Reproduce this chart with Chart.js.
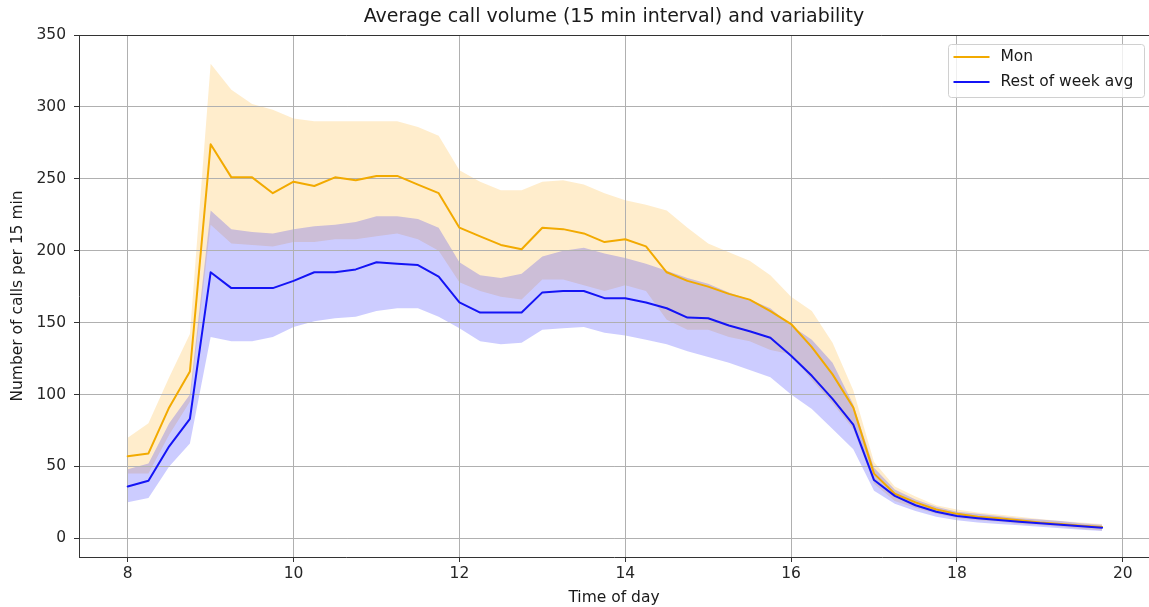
<!DOCTYPE html>
<html>
<head>
<meta charset="utf-8">
<title>Average call volume</title>
<script src="https://cdn.jsdelivr.net/npm/chart.js@4.4.1/dist/chart.umd.min.js"></script>
<style>
  html, body { margin: 0; padding: 0; background: #ffffff; }
  #wrap { width: 1149px; height: 607px; }
</style>
</head>
<body>
<div id="wrap"><canvas id="chart" width="1149" height="607"></canvas></div>
<script>
// Time of day, in hours, one slot per 15 minutes
const times = [8.00, 8.25, 8.50, 8.75, 9.00, 9.25, 9.50, 9.75, 10.00, 10.25, 10.50, 10.75,
  11.00, 11.25, 11.50, 11.75, 12.00, 12.25, 12.50, 12.75, 13.00, 13.25, 13.50, 13.75,
  14.00, 14.25, 14.50, 14.75, 15.00, 15.25, 15.50, 15.75, 16.00, 16.25, 16.50, 16.75,
  17.00, 17.25, 17.50, 17.75, 18.00, 18.25, 18.50, 18.75, 19.00, 19.25, 19.50, 19.75];

// Monday average calls per slot and its variability band
const monAvg = [57, 59, 91, 116, 274, 251, 251, 240, 248, 245, 251, 249,
  252, 252, 246, 240, 216, 210, 204, 201, 216, 215, 212, 206,
  208, 203, 185, 179, 175, 170, 166, 158, 149, 133, 114, 91,
  45, 31, 25, 20, 17, 15, 14, 12.5, 11, 10, 8.8, 7.8];
const monUpper = [70, 80, 112, 142, 330, 312, 302, 298, 292, 290, 290, 290,
  290, 290, 286, 280, 256, 248, 242, 242, 248, 249, 246, 240,
  235, 232, 228, 216, 205, 199, 193, 183, 168, 158, 136, 103,
  53, 36, 29, 23, 20, 18, 16.5, 15, 13.5, 12, 11, 10];
const monLower = [45, 45, 72, 95, 218, 205, 204, 203, 206, 206, 208, 208,
  210, 212, 208, 200, 178, 172, 168, 166, 180, 180, 176, 172,
  176, 172, 152, 145, 145, 140, 137, 131, 128, 110, 94, 76,
  38, 26, 21, 17, 14, 12.5, 11.5, 10, 9, 8, 6.5, 5.5];

// Tuesday-Friday average calls per slot and its variability band
const restAvg = [36, 40, 64, 83, 185, 174, 174, 174, 179, 185, 185, 187,
  192, 191, 190, 182, 164, 157, 157, 157, 171, 172, 172, 167,
  167, 164, 160, 153.5, 153, 148, 144, 139.5, 127, 113, 97, 79,
  40.5, 29.5, 23, 18.5, 15.5, 14, 12.7, 11.5, 10.4, 9.5, 8.3, 7.4];
const restUpper = [48, 52, 80, 100, 228, 215, 213, 212, 215, 217, 218, 220,
  224, 224, 222, 216, 192, 183, 181, 184, 196, 200, 202, 198,
  195, 191, 186, 181, 177, 171, 166, 160, 148, 138, 122, 93,
  49, 34, 27, 22, 18.5, 17, 15.5, 14, 13, 12, 10.5, 9.5];
const restLower = [25, 28, 50, 66, 140, 137, 137, 140, 147, 151, 153, 154,
  158, 160, 160, 154, 146, 137, 135, 136, 145, 146, 147, 143,
  141, 138, 135, 130, 126, 122, 117, 112, 100, 90, 76, 62,
  33, 24, 19, 15, 12.5, 11, 10, 9, 8, 7, 6, 5];

// Axis ticks
const xTicks = [8, 10, 12, 14, 16, 18, 20];
const yTicks = [0, 50, 100, 150, 200, 250, 300, 350];

const FONT = 'DejaVu Sans';
const MON_COLOR = '#f2aa00';
const REST_COLOR = '#1414f5';

const toPoints = vals => vals.map((v, i) => ({ x: times[i], y: v }));

const lineStyle = {
  pointRadius: 0,
  pointHoverRadius: 0,
  tension: 0,
  borderWidth: 2,
  borderJoinStyle: 'round',
  borderCapStyle: 'round'
};
const bandStyle = {
  pointRadius: 0,
  pointHoverRadius: 0,
  tension: 0,
  borderWidth: 0,
  borderColor: 'rgba(0,0,0,0)'
};

// Grid lines sit above the shaded bands but under the average lines
const gridOverBands = {
  id: 'gridOverBands',
  beforeDatasetDraw(chart, args) {
    if (args.index === 1) {
      chart.scales.x.drawGrid(chart.chartArea);
      chart.scales.y.drawGrid(chart.chartArea);
    }
  }
};

// Top spine plus a boxed legend in the upper right corner
const frameAndLegend = {
  id: 'frameAndLegend',
  afterDraw(chart) {
    const ctx = chart.ctx;
    const area = chart.chartArea;
    ctx.save();
    ctx.strokeStyle = '#333333';
    ctx.lineWidth = 1;
    ctx.beginPath();
    ctx.moveTo(area.left, area.top + 0.5);
    ctx.lineTo(area.right, area.top + 0.5);
    ctx.stroke();

    const entries = [
      { label: chart.data.datasets[1].label, color: MON_COLOR },
      { label: chart.data.datasets[0].label, color: REST_COLOR }
    ];
    const bw = 196, bh = 53;
    const bx = area.right - 201 + 0.5, by = area.top + 9 + 0.5;
    const r = 3;
    ctx.beginPath();
    ctx.moveTo(bx + r, by);
    ctx.lineTo(bx + bw - r, by);
    ctx.arcTo(bx + bw, by, bx + bw, by + r, r);
    ctx.lineTo(bx + bw, by + bh - r);
    ctx.arcTo(bx + bw, by + bh, bx + bw - r, by + bh, r);
    ctx.lineTo(bx + r, by + bh);
    ctx.arcTo(bx, by + bh, bx, by + bh - r, r);
    ctx.lineTo(bx, by + r);
    ctx.arcTo(bx, by, bx + r, by, r);
    ctx.closePath();
    ctx.fillStyle = 'rgba(255,255,255,0.8)';
    ctx.fill();
    ctx.strokeStyle = '#d0d0d0';
    ctx.stroke();

    ctx.font = '15.5px "' + FONT + '"';
    ctx.textBaseline = 'middle';
    ctx.textAlign = 'left';
    entries.forEach((e, i) => {
      const cy = by + 12.5 + i * 25;
      ctx.strokeStyle = e.color;
      ctx.lineWidth = 2;
      ctx.beginPath();
      ctx.moveTo(bx + 5, cy);
      ctx.lineTo(bx + 41, cy);
      ctx.stroke();
      ctx.fillStyle = '#1a1a1a';
      ctx.fillText(e.label, bx + 52, cy);
    });
    ctx.restore();
  }
};

const tickFont = { family: FONT, size: 15.5 };

new Chart(document.getElementById('chart'), {
  type: 'line',
  data: {
    datasets: [
      Object.assign({ label: 'Rest of week avg', data: toPoints(restAvg), borderColor: REST_COLOR, fill: false }, lineStyle),
      Object.assign({ label: 'Mon', data: toPoints(monAvg), borderColor: MON_COLOR, fill: false }, lineStyle),
      Object.assign({ label: 'Rest of week upper', data: toPoints(restUpper), fill: '+1', backgroundColor: 'rgba(0,0,255,0.2)' }, bandStyle),
      Object.assign({ label: 'Rest of week lower', data: toPoints(restLower), fill: false }, bandStyle),
      Object.assign({ label: 'Mon upper', data: toPoints(monUpper), fill: '+1', backgroundColor: 'rgba(255,165,0,0.2)' }, bandStyle),
      Object.assign({ label: 'Mon lower', data: toPoints(monLower), fill: false }, bandStyle)
    ]
  },
  options: {
    responsive: false,
    animation: false,
    devicePixelRatio: 1,
    events: [],
    layout: { padding: { left: 0, right: 0, top: 0, bottom: 0 } },
    plugins: {
      legend: { display: false },
      tooltip: { enabled: false },
      title: {
        display: true,
        fullSize: false,
        text: 'Average call volume (15 min interval) and variability',
        color: '#1a1a1a',
        font: { family: FONT, size: 19, weight: 'normal' },
        padding: { top: 6, bottom: 6.2 }
      }
    },
    scales: {
      x: {
        type: 'linear',
        min: 7.4125,
        max: 20.316,
        afterBuildTicks: s => { s.ticks = xTicks.map(v => ({ value: v })); },
        afterFit: s => { s.height = 50; },
        grid: { color: '#b0b0b0', tickColor: '#333333', tickLength: 5, lineWidth: 1 },
        border: { color: '#333333', width: 1 },
        ticks: { font: tickFont, color: '#262626', padding: 3, maxRotation: 0 },
        title: {
          display: true,
          text: 'Time of day',
          color: '#1a1a1a',
          font: tickFont,
          padding: { top: 0, bottom: 0 }
        }
      },
      y: {
        type: 'linear',
        min: -13,
        max: 350,
        afterBuildTicks: s => { s.ticks = yTicks.map(v => ({ value: v })); },
        afterFit: s => { s.width = 79; },
        grid: { color: '#b0b0b0', tickColor: '#333333', tickLength: 5, lineWidth: 1 },
        border: { color: '#333333', width: 1 },
        ticks: { font: tickFont, color: '#262626', padding: 8 },
        title: {
          display: true,
          text: 'Number of calls per 15 min',
          color: '#1a1a1a',
          font: tickFont,
          padding: { top: 9, bottom: 0 }
        }
      }
    }
  },
  plugins: [gridOverBands, frameAndLegend]
});
</script>
</body>
</html>
